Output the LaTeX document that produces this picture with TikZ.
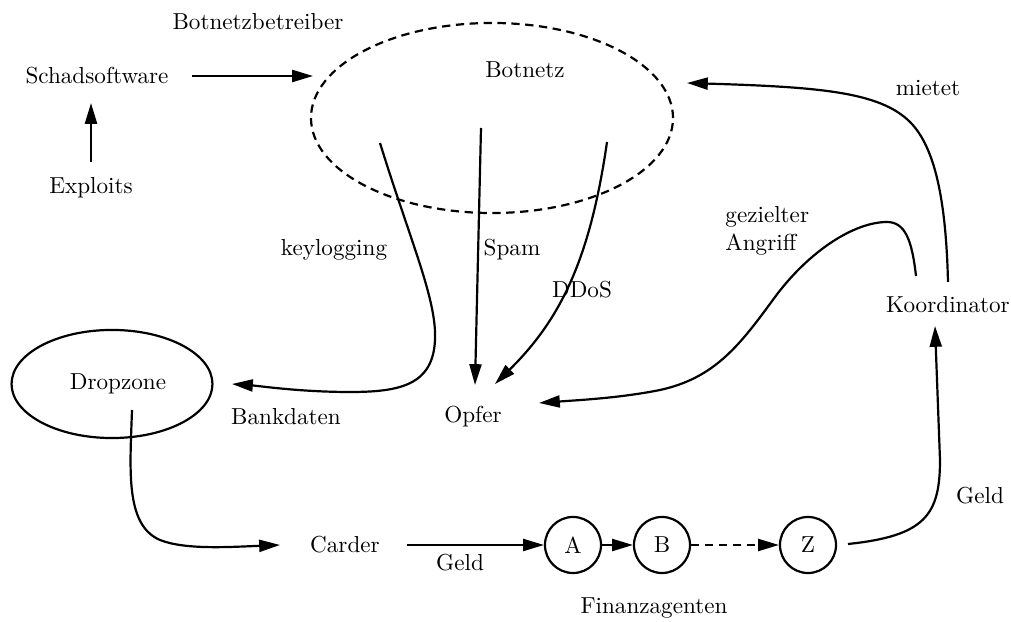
\documentclass[tikz,border=0pt]{standalone}
\usetikzlibrary{arrows.meta,shapes.geometric}
\begin{document}
\begin{tikzpicture}[x=0.432pt,y=-0.432pt,
  conn/.style={line width=0.95pt,-{Triangle[length=9pt,width=5.2pt]}},
  lbl/.style={inner sep=1pt},
  agent/.style={circle,draw,line width=0.95pt,minimum size=24.2pt,inner sep=0pt},
  dsh/.style={dash pattern=on 3.6pt off 2.4pt}]
\useasboundingbox (0,0) rectangle (1011,622);

% text nodes
\node[lbl] (betr) at (258,22) {Botnetzbetreiber};
\node[lbl] (schad) at (97,76) {Schadsoftware};
\node[lbl] (expl) at (91,188) {Exploits};
\node[lbl] (botlbl) at (525,70) {Botnetz};
\node[lbl] (keyl) at (334,250) {keylogging};
\node[lbl] (spam) at (512,250) {Spam};
\node[lbl] (ddos) at (582,290) {DDoS};
\node[lbl] (bank) at (286,417) {Bankdaten};
\node[lbl] (opfer) at (473,417) {Opfer};
\node[lbl,align=left,anchor=west,inner sep=0pt] (angr) at (725,231) {gezielter\\Angriff};
\node[lbl] (miet) at (928,88) {mietet};
\node[lbl] (koord) at (948,305) {Koordinator};
\node[lbl] (geld2) at (980,496) {Geld};
\node[lbl] (carder) at (345,545) {Carder};
\node[lbl] (geld1) at (460,563) {Geld};
\node[lbl] (fin) at (654,608) {Finanzagenten};
\node[lbl] (droplbl) at (118,384) {Dropzone};

% shapes
\node[ellipse,draw,dsh,line width=0.95pt,minimum width=156.4pt,minimum height=82.1pt,inner sep=0pt] (botnetz) at (492,118) {};
\node[ellipse,draw,line width=0.95pt,minimum width=86.8pt,minimum height=46.7pt,inner sep=0pt] (drop) at (112,384) {};
\node[agent] (A) at (573,545) {A};
\node[agent] (B) at (662,545) {B};
\node[agent] (Z) at (808,545) {Z};

% connector end points
\coordinate (e0) at (91,162);
\coordinate (e1) at (91,103);
\coordinate (s0) at (192,76);
\coordinate (s1) at (313,76);
\coordinate (k0) at (380,143);
\coordinate (k1) at (232,384);
\coordinate (sp0) at (481,128);
\coordinate (sp1) at (475,385);
\coordinate (dd0) at (607,142);
\coordinate (dd1) at (495,384);
\coordinate (dz0) at (132,410);
\coordinate (dz1) at (280,545);
\coordinate (c0) at (407,545);
\coordinate (z0) at (848,544);
\coordinate (ko1) at (935,326);
\coordinate (m0) at (948,282);
\coordinate (m1) at (687,83);
\coordinate (g0) at (916,276);
\coordinate (g1) at (539,403);

% connectors
\draw[conn] (e0) -- (e1);
\draw[conn] (s0) -- (s1);
\draw[conn] (k0) .. controls (410,240) and (437,300) .. (435,340) .. controls (433,385) and (400,392) .. (350,392) .. controls (300,392) and (260,386) .. (k1);
\draw[conn] (sp0) -- (sp1);
\draw[conn] (dd0) .. controls (590,260) and (560,320) .. (dd1);
\draw[conn] (dz0) .. controls (130,470) and (125,525) .. (160,540) .. controls (185,550) and (230,547) .. (dz1);
\draw[conn] (c0) -- (A);
\draw[conn] (A) -- (B);
\draw[conn,dsh] (B) -- (Z);
\draw[conn] (z0) .. controls (925,536) and (940,515) .. (940,460) -- (ko1);
\draw[conn] (m0) .. controls (946,200) and (935,147) .. (910,122) .. controls (880,92) and (820,87) .. (m1);
\draw[conn] (g0) .. controls (912,240) and (905,222) .. (887,222) .. controls (855,222) and (810,250) .. (775,297) .. controls (740,345) and (715,378) .. (660,390) .. controls (620,398) and (580,400) .. (g1);
\end{tikzpicture}
\end{document}
